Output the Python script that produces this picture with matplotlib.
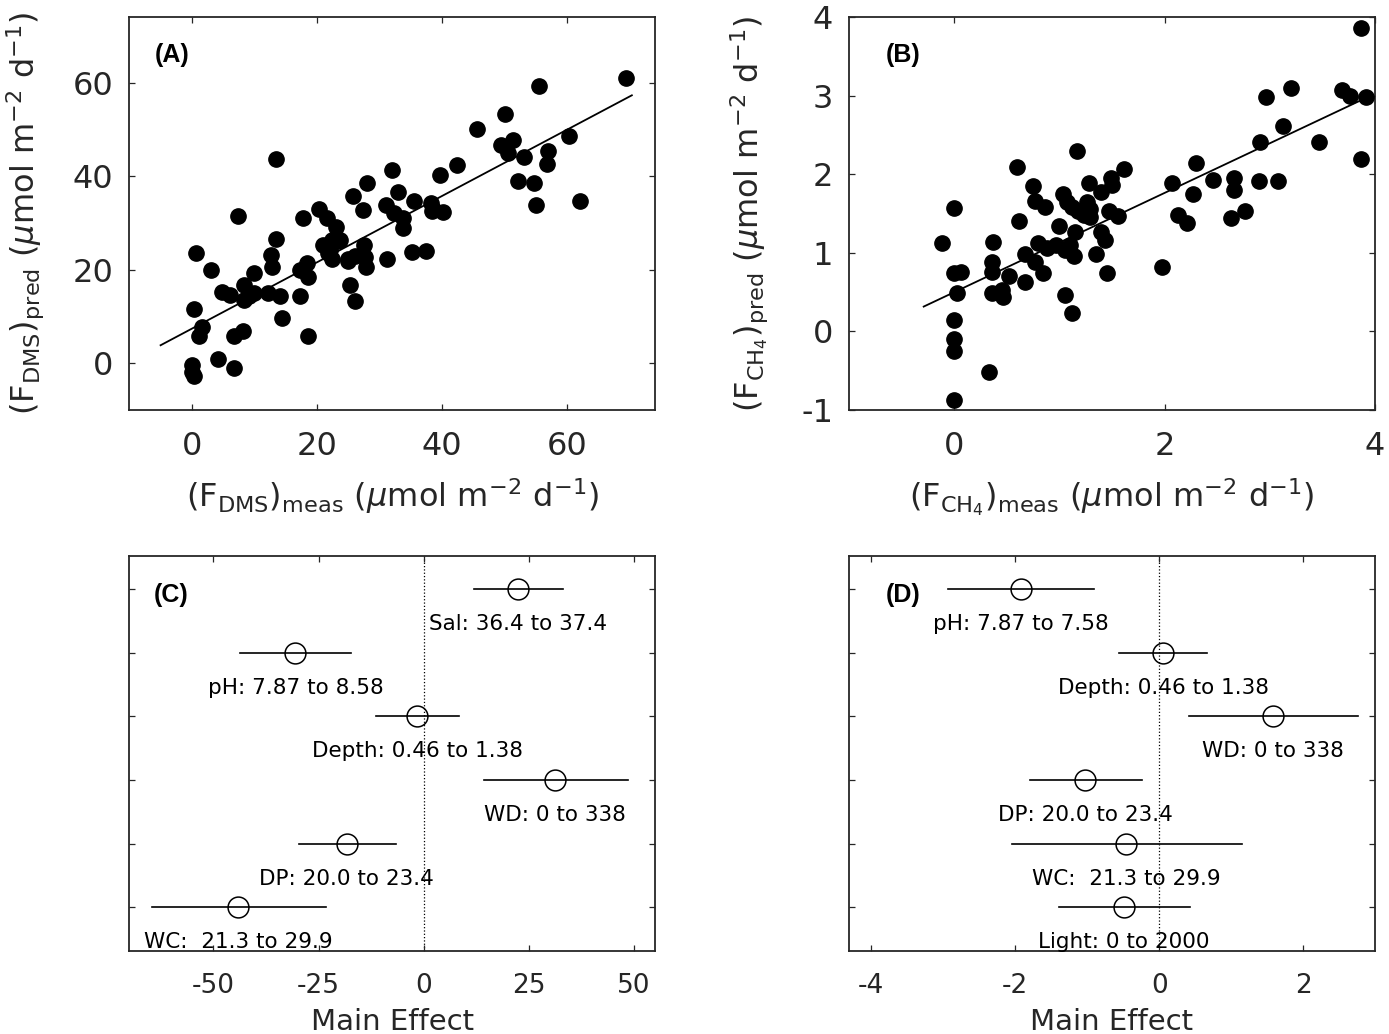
import matplotlib
matplotlib.use("Agg")
import matplotlib.pyplot as plt
import numpy as np

plt.rcParams['font.family'] = ['DejaVu Sans']
plt.rcParams['mathtext.fontset'] = 'dejavusans'
plt.rcParams['axes.unicode_minus'] = False

# ---------------- data ----------------
# Panel A: DMS flux, measured vs predicted
dms_meas = [13.5, 69.3, 55.5, 50.1, 45.5, 60.3, 49.4, 51.3, 50.5, 53.1, 56.9, 56.7, 52.1, 54.6,
            55.0, 62.0, 42.3, 39.7, 32.0, 28.0, 33.0, 25.7, 27.4, 31.0, 32.3, 33.8, 33.8, 35.5,
            38.2, 38.6, 40.2, 38.4, 20.3, 21.6, 23.1, 17.7, 7.4, 13.5, 12.7, 12.8, 0.7, 3.1,
            10.0, 8.3, 9.9, 8.4, 9.2, 4.8, 6.1, 12.1, 14.1, 17.2, 17.3, 18.4, 18.5, 21.0,
            22.4, 23.7, 22.1, 22.4, 25.0, 24.9, 27.5, 27.7, 27.8, 31.2, 35.2, 37.4, 25.2, 26.1,
            14.4, 18.5, 0.3, 1.6, 1.1, 6.7, 8.1, 4.2, 6.8, 0.0, 0.0, 0.3, 21.8, 23.2, 26.0]
dms_pred = [43.7, 61.1, 59.3, 53.3, 50.1, 48.7, 46.7, 47.8, 44.9, 44.2, 45.5, 42.6, 38.9, 38.5,
            33.9, 34.7, 42.5, 40.3, 41.3, 38.5, 36.7, 35.8, 32.7, 33.8, 32.1, 31.1, 29.0, 34.6,
            34.2, 33.1, 32.3, 32.5, 33.0, 31.1, 29.1, 31.1, 31.6, 26.5, 23.2, 20.6, 23.6, 20.0,
            19.4, 16.8, 15.1, 13.6, 14.4, 15.2, 14.6, 15.0, 14.3, 14.3, 20.0, 21.5, 18.5, 25.4,
            26.4, 26.4, 24.3, 22.2, 22.2, 21.8, 25.2, 22.7, 20.6, 22.2, 23.7, 24.1, 16.8, 13.3,
            9.7, 5.8, 11.5, 7.8, 5.8, 5.8, 7.0, 0.9, -1.1, -0.4, -1.8, -2.7, 23.6, 26.1, 22.9]
dms_fit_range = [-5.0, 70.3]
dms_fit_coef = [0.71, 7.4]   # slope, intercept

# Panel B: CH4 flux, measured vs predicted
ch4_meas = [3.87, 3.91, 3.69, 3.76, 3.20, 2.96, 3.13, 3.47, 3.87, 2.91, 2.90, 3.08, 2.30, 2.07,
            2.46, 2.66, 2.66, 2.27, 2.13, 2.21, 2.63, 2.76, 1.98, 1.17, 0.60, 1.61, 0.75, 1.28,
            1.49, 1.50, 1.40, 0.00, 0.77, 0.86, 1.03, 1.07, 1.12, 1.18, 1.26, 1.29, 1.23, 1.29,
            1.47, 1.56, 0.62, 1.00, 1.15, 1.40, 1.43, 0.37, -0.12, 0.80, 0.88, 0.97, 1.05, 1.10,
            1.14, 0.67, 1.35, 0.36, 0.36, 0.77, 0.84, 0.52, 0.67, 0.00, 0.06, 1.45, 0.03, 0.36,
            0.45, 0.46, 1.05, 1.12, 0.00, 0.00, 0.00, 0.33, 0.00]
ch4_pred = [3.87, 2.99, 3.08, 3.00, 3.10, 2.98, 2.61, 2.41, 2.19, 2.41, 1.91, 1.92, 2.15, 1.89,
            1.93, 1.96, 1.80, 1.75, 1.48, 1.38, 1.45, 1.53, 0.82, 2.30, 2.10, 2.07, 1.85, 1.89,
            1.96, 1.86, 1.77, 1.57, 1.66, 1.58, 1.75, 1.65, 1.58, 1.54, 1.65, 1.56, 1.48, 1.46,
            1.54, 1.47, 1.41, 1.34, 1.27, 1.27, 1.16, 1.14, 1.12, 1.12, 1.06, 1.10, 1.04, 1.10,
            0.96, 0.98, 0.99, 0.89, 0.76, 0.89, 0.74, 0.70, 0.63, 0.74, 0.76, 0.75, 0.49, 0.49,
            0.53, 0.44, 0.46, 0.23, 0.14, -0.10, -0.25, -0.51, -0.87]
ch4_fit_range = [-0.29, 3.87]
ch4_fit_coef = [0.632, 0.50]

# Panel C: main effects on DMS flux
c_labels = ['Sal: 36.4 to 37.4', 'pH: 7.87 to 8.58', 'Depth: 0.46 to 1.38',
            'WD: 0 to 338', 'DP: 20.0 to 23.4', 'WC:  21.3 to 29.9']
c_effect = [22.4, -30.5, -1.5, 31.3, -18.3, -44.1]
c_low = [11.9, -43.6, -11.3, 14.3, -29.6, -64.6]
c_high = [33.1, -17.3, 8.4, 48.5, -6.7, -23.3]

# Panel D: main effects on CH4 flux
d_labels = ['pH: 7.87 to 7.58', 'Depth: 0.46 to 1.38', 'WD: 0 to 338',
            'DP: 20.0 to 23.4', 'WC:  21.3 to 29.9', 'Light: 0 to 2000']
d_effect = [-1.92, 0.06, 1.58, -1.03, -0.46, -0.49]
d_low = [-2.93, -0.56, 0.41, -1.80, -2.05, -1.39]
d_high = [-0.91, 0.66, 2.76, -0.24, 1.15, 0.43]

# ---------------- figure ----------------
W, H = 1389, 1034
fig = plt.figure(figsize=(W / 100, H / 100), dpi=100)
TC = '#262626'


def box(x0, y0, x1, y1):
    return [x0 / W, 1 - y1 / H, (x1 - x0) / W, (y1 - y0) / H]


axA = fig.add_axes(box(129.3, 17.3, 655, 410))
axB = fig.add_axes(box(849, 17.3, 1375, 410))
axC = fig.add_axes(box(129.3, 556, 655, 951))
axD = fig.add_axes(box(849, 556, 1375, 951))


def style(ax, fs, xpad, ypad):
    for s in ax.spines.values():
        s.set_linewidth(1.3)
        s.set_color(TC)
    ax.tick_params(direction='in', top=True, right=True, length=4.2, width=0.9,
                   labelsize=fs, colors=TC)
    ax.tick_params(axis='x', pad=xpad)
    ax.tick_params(axis='y', pad=ypad)


unit = r'\ (\mu\mathrm{mol\ m}^{-2}\ \mathrm{d}^{-1})$'

# Panel A
axA.plot(dms_meas, dms_pred, 'o', color='black', markersize=11, zorder=3)
fx = np.array(dms_fit_range)
axA.plot(fx, dms_fit_coef[0] * fx + dms_fit_coef[1], '-', color='black', lw=1.3)
axA.set_xlim(-10, 74)
axA.set_ylim(-10, 74)
axA.set_xticks([0, 20, 40, 60])
axA.set_yticks([0, 20, 40, 60])
style(axA, 23, 15, 11.5)
axA.set_xlabel(r'$(\mathrm{F}_{\mathrm{DMS}})_{\mathrm{meas}}' + unit, fontsize=23, color=TC)
axA.set_ylabel(r'$(\mathrm{F}_{\mathrm{DMS}})_{\mathrm{pred}}' + unit, fontsize=23, color=TC)
axA.xaxis.set_label_coords(0.5, -0.168)
axA.yaxis.set_label_coords(-0.158, 0.5)
axA.text(0.049, 0.903, '(A)', transform=axA.transAxes, fontsize=18, fontweight='bold',
         family='Liberation Sans', va='center', ha='left', color='black')

# Panel B
axB.plot(ch4_meas, ch4_pred, 'o', color='black', markersize=11, zorder=3)
fx = np.array(ch4_fit_range)
axB.plot(fx, ch4_fit_coef[0] * fx + ch4_fit_coef[1], '-', color='black', lw=1.3)
axB.set_xlim(-1, 4)
axB.set_ylim(-1, 4)
axB.set_xticks([0, 2, 4])
axB.set_yticks([-1, 0, 1, 2, 3, 4])
style(axB, 23, 15, 11.5)
axB.set_xlabel(r'$(\mathrm{F}_{\mathrm{CH}_{4}})_{\mathrm{meas}}' + unit, fontsize=23, color=TC)
axB.set_ylabel(r'$(\mathrm{F}_{\mathrm{CH}_{4}})_{\mathrm{pred}}' + unit, fontsize=23, color=TC)
axB.xaxis.set_label_coords(0.5, -0.168)
axB.yaxis.set_label_coords(-0.150, 0.5)
axB.text(0.0696, 0.903, '(B)', transform=axB.transAxes, fontsize=18, fontweight='bold',
         family='Liberation Sans', va='center', ha='left', color='black')


def effects(ax, labels, eff, lo, hi, xlim, xticks, tag, tagx):
    rows = np.arange(1, len(labels) + 1)
    for r, e, l, h, lab in zip(rows, eff, lo, hi, labels):
        ax.plot([l, h], [r, r], '-', color='black', lw=1.2, zorder=2)
        ax.plot([e], [r], 'o', markersize=15, markerfacecolor='none',
                markeredgecolor='black', markeredgewidth=1.1, zorder=3)
        ax.text(e, r + 0.645, lab, ha='center', va='baseline', fontsize=15.5, color='black')
    ax.axvline(0, color='black', ls=':', lw=0.9, zorder=1)
    ax.set_xlim(*xlim)
    ax.set_ylim(6.69, 0.48)
    ax.set_yticks(rows)
    ax.set_yticklabels([])
    ax.set_xticks(xticks)
    style(ax, 19, 15.5, 8)
    ax.set_xlabel('Main Effect', fontsize=21, color=TC)
    ax.xaxis.set_label_coords(0.5, -0.145)
    ax.text(tagx, 0.901, tag, transform=ax.transAxes, fontsize=18, fontweight='bold',
            family='Liberation Sans', va='center', ha='left', color='black')


effects(axC, c_labels, c_effect, c_low, c_high, (-70, 55), [-50, -25, 0, 25, 50], '(C)', 0.047)
effects(axD, d_labels, d_effect, d_low, d_high, (-4.31, 3.0), [-4, -2, 0, 2], '(D)', 0.0696)

fig.savefig('out.png', dpi=100)
